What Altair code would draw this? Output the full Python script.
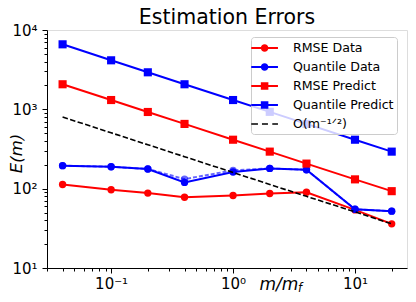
import altair as alt
import pandas as pd

# ---- data ----
x_vals = [0.04, 0.1, 0.2, 0.4, 1, 2, 4, 10, 20]
rmse_data = [113, 97, 88, 78, 82, 87, 90, 54, 36]
quantile_data = [195, 189, 177, 120, 162, 180, 173, 55, 52]
quantile_data_alt = [195, 189, 177, 132, 170, 180, 173, 55, 52]
rmse_predict = [2070, 1310, 926, 655, 414, 293, 207, 131, 93]
quantile_predict = [6600, 4150, 2930, 2070, 1310, 930, 655, 414, 293]
bound = [800, 506, 358, 253, 160, 113, 80, 51, 36]

names = ["RMSE Data", "Quantile Data", "RMSE Predict", "Quantile Predict", "O(m⁻¹ᐟ²)"]
colors = ["#ff0000", "#0000ff", "#ff0000", "#0000ff", "#000000"]

x_major = [0.1, 1, 10]
x_major_labels = ["10⁻¹", "10⁰", "10¹"]
y_major = [10, 100, 1000, 10000]
y_major_labels = ["10¹", "10²", "10³", "10⁴"]

chart_title = "Estimation Errors"

series_values = {
    "RMSE Data": rmse_data,
    "Quantile Data alt": quantile_data_alt,
    "Quantile Data": quantile_data,
    "RMSE Predict": rmse_predict,
    "Quantile Predict": quantile_predict,
    "bound": bound,
}

rows = []
for s, vals in series_values.items():
    for xv, yv in zip(x_vals, vals):
        rows.append({"x": xv, "y": yv, "series": s})
df = pd.DataFrame(rows)

x_ticks = [m * 10.0 ** e for e in (-2, -1, 0, 1) for m in range(1, 10)]
x_ticks = [t for t in x_ticks if 0.0298 <= t <= 26.7]
y_ticks = [m * 10.0 ** e for e in (1, 2, 3) for m in range(1, 10)] + [10000]


def label_expr(vals, labels):
    expr = "''"
    for v, l in reversed(list(zip(vals, labels))):
        expr = f"abs(datum.value-{v})<{v}*1e-6 ? '{l}' : " + expr
    return expr


major_test = "abs(log(datum.value)/LN10 - round(log(datum.value)/LN10)) < 1e-6"
tick_size = {"condition": {"test": major_test, "value": 5}, "value": 3}

x_axis = alt.Axis(
    values=x_ticks, labelExpr=label_expr(x_major, x_major_labels),
    tickSize=tick_size, tickColor="black", tickWidth=1,
    domainColor="black", domainWidth=1, grid=False,
    labelFont="DejaVu Sans", labelFontSize=15, labelColor="black",
    labelPadding=3, labelOverlap=False, labelFlush=False, labelBound=False,
    title="m/m", titleFont="DejaVu Sans", titleFontSize=17, titleFontStyle="italic",
    titleFontWeight="normal", titleColor="black", titleAlign="left",
    titleBaseline="alphabetic", titleX=212, titleY=21,
)
y_axis = alt.Axis(
    values=y_ticks, labelExpr=label_expr(y_major, y_major_labels),
    tickSize=tick_size, tickColor="black", tickWidth=1,
    domainColor="black", domainWidth=1, grid=False,
    labelFont="DejaVu Sans", labelFontSize=15, labelColor="black",
    labelPadding=5, labelOverlap=False, labelFlush=False, labelBound=False,
    title="E(m)", titleFont="DejaVu Sans", titleFontSize=16.5, titleFontStyle="italic",
    titleFontWeight="normal", titleColor="black", titleAngle=270,
    titleAlign="center", titleBaseline="middle", titleX=-31, titleY=123,
)

X = alt.X("x:Q", scale=alt.Scale(type="log", domain=[0.0298, 26.7], nice=False), axis=x_axis)
Y = alt.Y("y:Q", scale=alt.Scale(type="log", domain=[10, 10000], nice=False), axis=y_axis)

base = alt.Chart(df)


def series_layers(name, color, shape, dash=None, opacity=1.0):
    b = base.transform_filter(alt.datum.series == name)
    line_kw = dict(color=color, strokeWidth=2, opacity=opacity)
    if dash:
        line_kw["strokeDash"] = dash
    layers = [b.mark_line(**line_kw).encode(x=X, y=Y)]
    if shape:
        size = 54 if shape == "circle" else 66
        layers.append(
            b.mark_point(shape=shape, filled=True, size=size, color=color, opacity=opacity)
            .encode(x=X, y=Y)
        )
    return layers


layers = []
layers += series_layers("RMSE Data", "#ff0000", "circle")
layers += series_layers("Quantile Data alt", "#0000ff", "circle", dash=[4, 2], opacity=0.6)
layers += series_layers("Quantile Data", "#0000ff", "circle")
layers += series_layers("RMSE Predict", "#ff0000", "square")
layers += series_layers("Quantile Predict", "#0000ff", "square")
bl = base.transform_filter(alt.datum.series == "bound")
layers.append(bl.mark_line(color="black", strokeWidth=1.6, strokeDash=[5.5, 2.4]).encode(x=X, y=Y))

# legend symbols: line + marker, unit = 8px
line_p = "M-1.67,-0.13H1.67V0.13H-1.67Z"
circ_p = "M0.47,0A0.47,0.47 0 1,1 -0.47,0A0.47,0.47 0 1,1 0.47,0Z"
sq_p = "M-0.47,-0.47H0.47V0.47H-0.47Z"
dash_p = ("M-1.67,-0.1H-0.83V0.1H-1.67Z M-0.33,-0.1H0.42V0.1H-0.33Z "
          "M0.96,-0.1H1.67V0.1H0.96Z")
paths = [line_p + " " + circ_p, line_p + " " + circ_p, line_p + " " + sq_p,
         line_p + " " + sq_p, dash_p]

legend = alt.Legend(
    title=None, orient="none", legendX=204, legendY=7, padding=3,
    symbolSize=256, symbolOffset=2.6, labelOffset=20.3, rowPadding=4.0,
    labelFont="DejaVu Sans", labelFontSize=12.6, labelColor="black", labelLimit=300,
    fillColor="rgba(255,255,255,0.8)", strokeColor="#cccccc", cornerRadius=3,
    symbolStrokeWidth=0, symbolOpacity=1,
)
leg_layer = base.transform_filter("false").mark_point(filled=True).encode(
    x=X, y=Y,
    color=alt.Color("series:N", scale=alt.Scale(domain=names, range=colors), legend=legend),
    shape=alt.Shape("series:N", scale=alt.Scale(domain=names, range=paths), legend=legend),
)
layers.append(leg_layer)

one = pd.DataFrame({"t": [chart_title]})
title_layer = alt.Chart(one).mark_text(
    font="DejaVu Sans", fontSize=20.5, align="center", baseline="alphabetic", color="black",
).encode(text="t:N", x=alt.value(180), y=alt.value(-6.5))
layers.append(title_layer)

sub_f = alt.Chart(pd.DataFrame({"t": ["f"]})).mark_text(
    font="DejaVu Sans", fontSize=11.5, fontStyle="italic",
    align="left", baseline="alphabetic", color="black",
).encode(text="t:N", x=alt.value(251), y=alt.value(262))
layers.append(sub_f)

chart = alt.layer(*layers).properties(
    width=360, height=238,
    autosize=alt.AutoSizeParams(type="none"),
    padding={"left": 39, "top": 22, "right": 1, "bottom": 26},
).configure_view(stroke="#888888", strokeWidth=1.3).configure(background="white")

chart.save("out.html", embed_options={"renderer": "svg", "actions": False})
